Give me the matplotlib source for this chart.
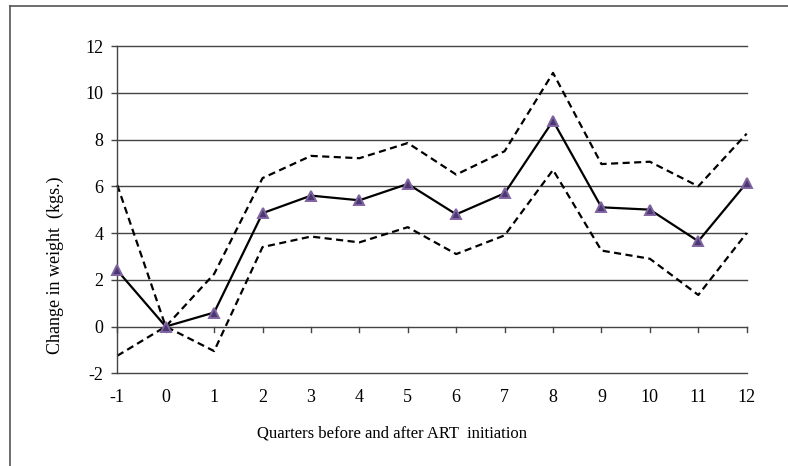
import matplotlib
matplotlib.use("Agg")
import matplotlib.pyplot as plt

quarters = [-1, 0, 1, 2, 3, 4, 5, 6, 7, 8, 9, 10, 11, 12]
mean_change = [2.4, 0.0, 0.6, 4.85, 5.6, 5.4, 6.1, 4.8, 5.7, 8.8, 5.1, 5.0, 3.65, 6.15]
upper_ci = [6.05, 0.0, 2.25, 6.35, 7.3, 7.2, 7.85, 6.5, 7.5, 10.85, 6.95, 7.05, 6.0, 8.25]
lower_ci = [-1.25, 0.0, -1.05, 3.4, 3.85, 3.6, 4.25, 3.1, 3.9, 6.7, 3.25, 2.9, 1.35, 4.0]
y_ticks = [-2, 0, 2, 4, 6, 8, 10, 12]

plt.rcParams['font.family'] = ['Liberation Serif', 'DejaVu Serif']

W, H = 788, 466
fig = plt.figure(figsize=(W / 100, H / 100), dpi=100)

# outer frame (only top and left visible)
fig.add_artist(plt.Line2D([10 / W, 10 / W], [0, 1 - 6 / H], transform=fig.transFigure,
                          color='#555555', lw=1.2))
fig.add_artist(plt.Line2D([10 / W, 1], [1 - 6 / H, 1 - 6 / H], transform=fig.transFigure,
                          color='#555555', lw=1.2))

left, right = 117.3, 746.7
top, bottom = 46.0, 373.3
ax = fig.add_axes([left / W, 1 - bottom / H, (right - left) / W, (bottom - top) / H])

ax.set_xlim(-1, 12)
ax.set_ylim(-2, 12)

for yv in y_ticks:
    ax.axhline(yv, color='#444444', lw=1.0, zorder=1, clip_on=False)

ax.plot(quarters, upper_ci, color='black', lw=1.6, ls=(0, (3.2, 2.0)), zorder=2, clip_on=False)
ax.plot(quarters, lower_ci, color='black', lw=1.6, ls=(0, (3.2, 2.0)), zorder=2, clip_on=False)
ax.plot(quarters, mean_change, color='black', lw=1.6, zorder=3, clip_on=False,
        marker='^', markersize=7.5, markerfacecolor='#4a3870', markeredgecolor='#8064A2',
        markeredgewidth=1.4)

for s in ['top', 'right', 'bottom']:
    ax.spines[s].set_visible(False)
ax.spines['left'].set_color('#444444')
ax.spines['left'].set_linewidth(1.0)

ax.set_yticks(y_ticks)
ax.set_yticklabels([str(v) for v in y_ticks], fontsize=13)
ax.tick_params(axis='y', length=4, width=1, color='#444444', pad=6)

# category ticks on the zero line pointing downward
ax.set_xticks(quarters)
ax.set_xticklabels([str(q) for q in quarters], fontsize=13)
ax.tick_params(axis='x', length=0, pad=11)
for q in quarters:
    ax.plot([q, q], [0, -0.22], color='#444444', lw=1.0, zorder=1, clip_on=False)

fig.text(392 / W, 1 - 434 / H, 'Quarters before and after ART  initiation', fontsize=12,
         ha='center', va='center')
ax.set_ylabel('Change in weight  (kgs.)', fontsize=13)
ax.yaxis.set_label_coords((55 - left) / (right - left), (bottom - 265) / (bottom - top))
ax.yaxis.label.set_va('center')

fig.savefig('out.png', dpi=100)
